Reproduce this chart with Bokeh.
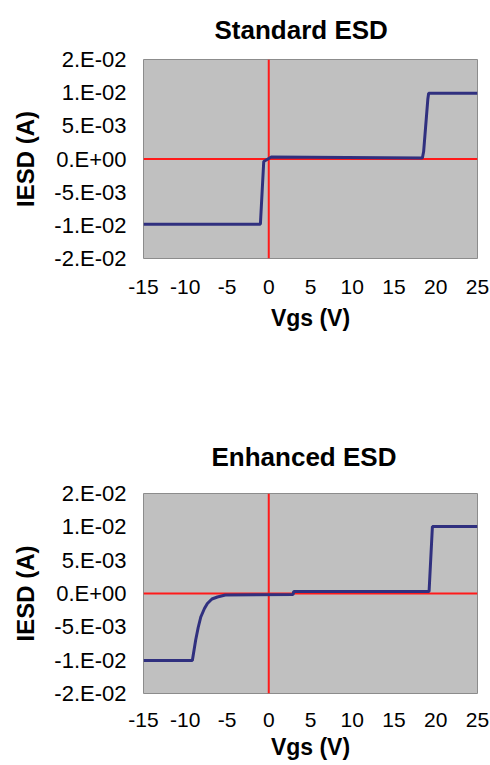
from bokeh.plotting import figure
from bokeh.layouts import column
from bokeh.models import Range1d, FixedTicker, Span
from bokeh.embed import file_html
from bokeh.resources import INLINE
import numpy as np

# ---- data ----
x_ticks = [-15, -10, -5, 0, 5, 10, 15, 20, 25]
x_tick_labels = ["-15", "-10", "-5", "0", "5", "10", "15", "20", "25"]
y_tick_labels = ["-2.E-02", "-1.E-02", "-5.E-03", "0.E+00", "5.E-03", "1.E-02", "2.E-02"]

std_vgs = [-15, -1.0, -0.6, -0.1, 0.3, 18.4, 18.55, 19.05, 19.15, 25]
std_iesd = [-0.0131, -0.0131, -0.0005, 0.0000, 0.0004, 0.0002, 0.0015, 0.0120, 0.0132, 0.0132]

enh_vgs = [-15, -9.15, -8.75, -8.45, -8.14, -7.7, -7.35, -6.8, -6.15, -5.2, 2.9, 3.0, 19.2, 19.6, 25]
enh_iesd = [-0.0134, -0.0134, -0.0093, -0.0068, -0.0047, -0.0030, -0.0020, -0.0011, -0.0007, -0.0003,
            -0.0002, 0.0004, 0.0004, 0.0134, 0.0134]

FONT = "Liberation Sans"


def make_chart(title, xs, ys, height, b_left, b_right, b_top, b_bottom,
               title_offset, title_standoff, tick_standoff, label_standoff):
    p = figure(width=490, height=height, output_backend="svg", toolbar_location=None,
               title=title, x_range=Range1d(-15, 25), y_range=Range1d(-0.02, 0.02),
               min_border_left=b_left, min_border_right=b_right,
               min_border_top=b_top, min_border_bottom=b_bottom)
    p.background_fill_color = "#C0C0C0"
    p.border_fill_color = "white"
    p.outline_line_color = "#8C8C8C"
    p.outline_line_width = 1
    p.grid.visible = False

    p.title.text_font = FONT
    p.title.text_font_size = "26px"
    p.title.text_font_style = "bold"
    p.title.align = "left"
    p.title.vertical_align = "top"
    p.title.offset = title_offset
    p.title.standoff = title_standoff
    p.title.text_color = "black"

    y_pos = list(np.linspace(-0.02, 0.02, len(y_tick_labels)))
    p.yaxis.ticker = FixedTicker(ticks=y_pos)
    p.yaxis.major_label_overrides = {v: l for v, l in zip(y_pos, y_tick_labels)}
    p.xaxis.ticker = FixedTicker(ticks=x_ticks)
    p.xaxis.major_label_overrides = {v: l for v, l in zip(x_ticks, x_tick_labels)}

    for ax in (p.xaxis[0], p.yaxis[0]):
        ax.axis_line_color = None
        ax.major_tick_line_color = None
        ax.minor_tick_line_color = None
        ax.major_tick_out = 0
        ax.major_tick_in = 0
        ax.major_label_text_font = FONT
        ax.major_label_text_color = "black"
        ax.axis_label_text_font = FONT
        ax.axis_label_text_font_style = "bold"
        ax.axis_label_text_color = "black"

    p.xaxis.axis_label = "Vgs (V)"
    p.xaxis.major_label_text_font_size = "21px"
    p.xaxis.axis_label_text_font_size = "23px"
    p.xaxis.major_label_standoff = tick_standoff
    p.xaxis.axis_label_standoff = label_standoff

    p.yaxis.axis_label = "IESD (A)"
    p.yaxis.major_label_text_font_size = "22px"
    p.yaxis.axis_label_text_font_size = "24px"
    p.yaxis.major_label_standoff = 17
    p.yaxis.axis_label_standoff = 12

    p.add_layout(Span(location=0, dimension="width", line_color="#FF1A1A", line_width=2, level="underlay"))
    p.add_layout(Span(location=0, dimension="height", line_color="#FF1A1A", line_width=2, level="underlay"))

    p.line(xs, ys, line_color="#30307F", line_width=3)
    return p


p1 = make_chart("Standard ESD", std_vgs, std_iesd, 383, 143, 12, 59, 125, 71, 26, 21, 8)
p2 = make_chart("Enhanced ESD", enh_vgs, enh_iesd, 382, 141, 13, 110, 72, 68, 40, 19, 4)

layout = column(p1, p2, spacing=0)
open("out.html", "w").write(file_html(layout, INLINE))
